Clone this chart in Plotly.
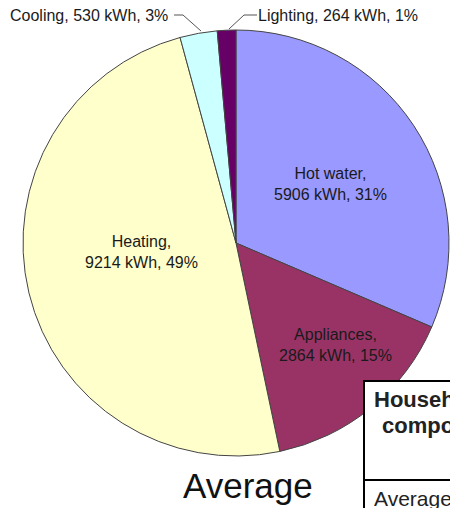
import plotly.graph_objects as go

# ---- data ----
categories = ["Hot water", "Appliances", "Heating", "Cooling", "Lighting"]
kwh = [5906, 2864, 9214, 530, 264]
percents = [31, 15, 49, 3, 1]
colors = ["#9999FF", "#993366", "#FFFFCC", "#CCFFFF", "#660066"]
title_text = "Average"
table_header = ["Household", "composition"]
table_row = ["Average"]

W, H = 450, 508
def px(x):
    return x / W
def py(y):
    return 1 - y / H

cx, cy, r = 236, 243, 213

fig = go.Figure(go.Pie(
    labels=categories,
    values=kwh,
    sort=False,
    direction="clockwise",
    rotation=0,
    textinfo="none",
    hoverinfo="label+value+percent",
    marker=dict(colors=colors, line=dict(color="#444444", width=1)),
    domain=dict(x=[px(cx - r), px(cx + r)], y=[py(cy + r), py(cy - r)]),
    showlegend=False,
))

FONT = "Liberation Sans, Arial, sans-serif"
label_pos = {
    "Hot water": (330, 184),
    "Appliances": (335, 345),
    "Heating": (141, 252),
}
annotations = []
for cat, v, p in zip(categories, kwh, percents):
    if cat in label_pos:
        x, y = label_pos[cat]
        annotations.append(dict(
            x=px(x), y=py(y), xref="paper", yref="paper",
            text=f"{cat},<br>{v} kWh, {p}%", showarrow=False,
            xanchor="center", yanchor="middle",
            font=dict(family=FONT, size=16, color="#1a1a1a"),
        ))

# outside labels
cool_i = categories.index("Cooling")
light_i = categories.index("Lighting")
annotations.append(dict(
    x=px(8), y=py(16), xref="paper", yref="paper",
    text=f"{categories[cool_i]}, {kwh[cool_i]} kWh, {percents[cool_i]}%",
    showarrow=False, xanchor="left", yanchor="middle",
    font=dict(family=FONT, size=16, color="#1a1a1a"),
))
annotations.append(dict(
    x=px(256), y=py(16), xref="paper", yref="paper",
    text=f"{categories[light_i]}, {kwh[light_i]} kWh, {percents[light_i]}%",
    showarrow=False, xanchor="left", yanchor="middle",
    font=dict(family=FONT, size=16, color="#1a1a1a"),
))

# title
annotations.append(dict(
    x=px(248), y=py(485), xref="paper", yref="paper",
    text=title_text, showarrow=False, xanchor="center", yanchor="middle",
    font=dict(family=FONT, size=35, color="#111111"),
))

# table texts (the table is cut off at the right/bottom edge, as in the reference)
annotations.append(dict(
    x=px(372), y=py(399), xref="paper", yref="paper",
    text=f"<b>{table_header[0]}</b>", showarrow=False, xanchor="left", yanchor="middle",
    font=dict(family=FONT, size=22, color="#222222"),
))
annotations.append(dict(
    x=px(380), y=py(425), xref="paper", yref="paper",
    text=f"<b>{table_header[1]}</b>", showarrow=False, xanchor="left", yanchor="middle",
    font=dict(family=FONT, size=22, color="#222222"),
))
annotations.append(dict(
    x=px(372), y=py(498), xref="paper", yref="paper",
    text=table_row[0], showarrow=False, xanchor="left", yanchor="middle",
    font=dict(family=FONT, size=21, color="#222222"),
))

def path(pts):
    return "M " + " L ".join(f"{px(x)},{py(y)}" for x, y in pts)

shapes = [
    dict(type="path", xref="paper", yref="paper",
         path=path([(174, 15), (183, 15), (201, 31)]),
         line=dict(color="#555555", width=1)),
    dict(type="path", xref="paper", yref="paper",
         path=path([(257, 15), (244, 15), (229, 29)]),
         line=dict(color="#555555", width=1)),
    dict(type="rect", xref="paper", yref="paper",
         x0=px(364), x1=px(460), y0=py(381), y1=py(520),
         line=dict(color="#000000", width=2), fillcolor="#FFFFFF"),
    dict(type="line", xref="paper", yref="paper",
         x0=px(364), x1=px(460), y0=py(480), y1=py(480),
         line=dict(color="#000000", width=2)),
]

fig.update_layout(
    width=W, height=H,
    margin=dict(l=0, r=0, t=0, b=0),
    paper_bgcolor="#FFFFFF",
    plot_bgcolor="#FFFFFF",
    annotations=annotations,
    shapes=shapes,
)

fig.write_html("out.html")
